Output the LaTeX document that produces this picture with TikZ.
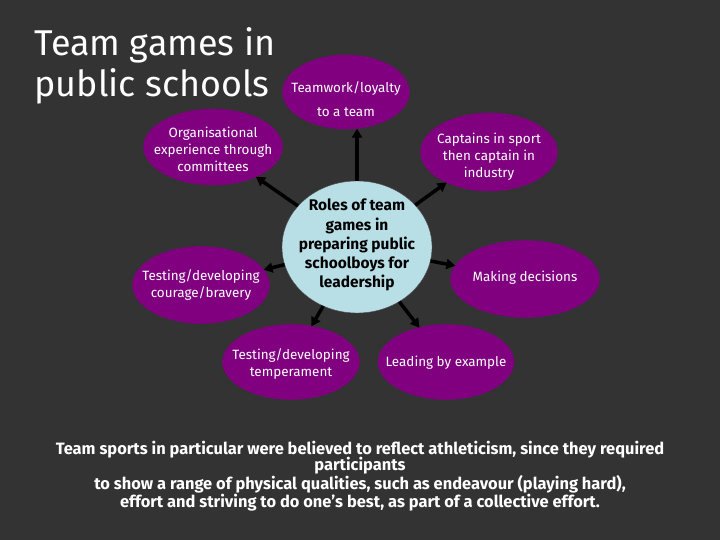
\documentclass[tikz,border=0pt]{standalone}
\usepackage{fontspec}
\setmainfont{Fira Sans}
\usetikzlibrary{shapes.geometric,arrows.meta}

\definecolor{bgdark}{HTML}{333333}
\definecolor{bubble}{HTML}{800080}
\definecolor{hubblue}{HTML}{B8DEE6}

% text that does not widen its ellipse
\newcommand{\inell}[2][-4.5bp]{\smash{\raisebox{#1}{\makebox[0pt]{\begin{tabular}{@{}c@{}}#2\end{tabular}}}}}

\tikzset{
  role/.style={ellipse, draw=black!80, fill=bubble, text=white, inner sep=0pt,
    font=\fontsize{13.5}{17}\selectfont},
  hub/.style={ellipse, draw=black!70, fill=hubblue, text=black, inner sep=0pt,
    font=\bfseries\fontsize{15.5}{19.2}\selectfont},
  arr/.style={black, line width=3.5bp, -{Triangle[length=9bp,width=10bp]}, shorten >=-1bp}
}

\begin{document}
\begin{tikzpicture}[x=1bp,y=-1bp]
\fill[bgdark] (0,0) rectangle (720,540);

\node[anchor=west, text=white, align=left, font=\fontsize{36}{41}\selectfont] (title) at (31,66) {Team games in\\public schools};

% centre
\node[hub, minimum width=150bp, minimum height=132bp] (roles) at (357,247) {\inell[-2bp]{Roles of team\\games in\\preparing public\\schoolboys for\\leadership}};

% outer ellipses
\node[role, minimum width=128bp, minimum height=75bp] (team) at (346,92) {\inell[-13bp]{Teamwork/loyalty\\[7bp]to a team}};
\node[role, minimum width=140bp, minimum height=77bp] (org) at (213,147) {\inell[-7.5bp]{Organisational\\experience through\\committees}};
\node[role, minimum width=138bp, minimum height=79bp] (capt) at (489,152) {\inell[-8.5bp]{Captains in sport\\then captain in\\industry}};
\node[role, minimum width=138bp, minimum height=78bp] (courage) at (201,285) {\inell{Testing/developing\\courage/bravery}};
\node[role, minimum width=150bp, minimum height=78bp] (decide) at (525,279) {\inell[-2.5bp]{Making decisions}};
\node[role, minimum width=138bp, minimum height=76bp] (temper) at (291,362) {\inell[-5.75bp]{Testing/developing\\temperament}};
\node[role, minimum width=137bp, minimum height=76bp] (lead) at (446,362) {\inell[-4.25bp]{Leading by example}};

% arrows
\draw[arr] (roles.north) -- (roles.north |- team.south);
\draw[arr] (roles) -- (org);
\draw[arr] (roles) -- (capt);
\draw[arr] (roles) -- (courage);
\draw[arr] (roles) -- (decide);
\draw[arr] (roles) -- (temper);
\draw[arr] (roles) -- (lead);

\node[text=white, align=center, font=\bfseries\fontsize{16.5}{18.5}\selectfont] (note) at (360,476) {Team sports in particular were believed to reflect athleticism, since they required\\[-2bp]participants\\to show a range of physical qualities, such as endeavour (playing hard),\\effort and striving to do one's best, as part of a collective effort.};
\end{tikzpicture}
\end{document}
